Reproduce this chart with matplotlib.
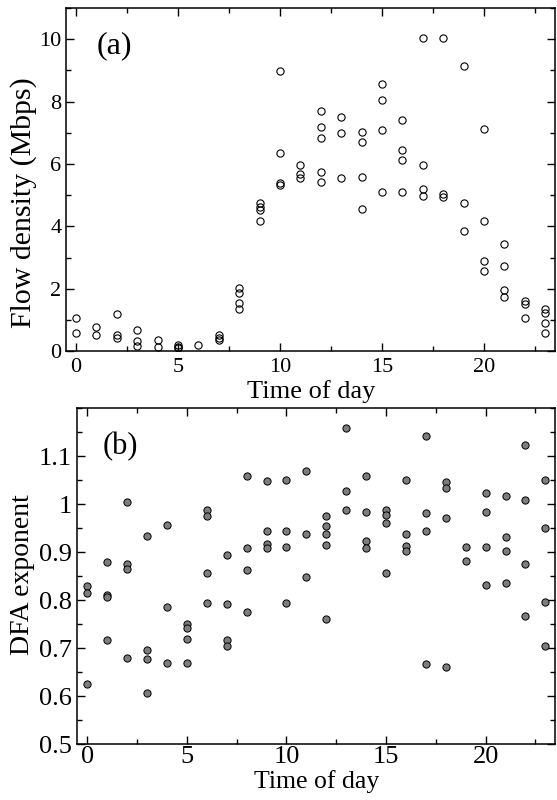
import matplotlib
matplotlib.use("Agg")
import matplotlib.pyplot as plt
from matplotlib.ticker import MultipleLocator, FormatStrFormatter, FixedLocator

plt.rcParams['font.family'] = ['Liberation Serif', 'DejaVu Serif']

hours = list(range(24))

# Panel (a): flow density (Mbps), values per hour
flow_density = [
    [1.07, 0.58],
    [0.78, 0.52],
    [1.18, 0.51, 0.43],
    [0.67, 0.34, 0.17],
    [0.36, 0.12],
    [0.21, 0.14, 0.09],
    [0.19],
    [0.52, 0.43, 0.36],
    [2.03, 1.88, 1.55, 1.34],
    [4.76, 4.63, 4.52, 4.17],
    [8.98, 6.36, 5.38, 5.33],
    [5.98, 5.68, 5.56],
    [7.69, 7.19, 6.83, 5.73, 5.41],
    [7.50, 6.98, 5.55],
    [7.04, 6.69, 5.57, 4.55],
    [8.56, 8.04, 7.09, 5.10],
    [7.41, 6.45, 6.12, 5.09],
    [10.03, 5.97, 5.20, 4.97],
    [10.05, 5.03, 4.95],
    [9.13, 4.74, 3.86],
    [7.11, 4.17, 2.90, 2.58],
    [3.45, 2.73, 1.97, 1.73],
    [1.62, 1.51, 1.06],
    [1.35, 1.24, 0.91, 0.57],
]

# Panel (b): DFA exponent, values per hour
dfa_exponent = [
    [0.829, 0.816, 0.625],
    [0.880, 0.811, 0.806, 0.718],
    [1.004, 0.876, 0.866, 0.679],
    [0.933, 0.697, 0.677, 0.606],
    [0.956, 0.786, 0.669],
    [0.751, 0.743, 0.720, 0.670],
    [0.989, 0.975, 0.857, 0.795],
    [0.895, 0.793, 0.717, 0.704],
    [1.060, 0.910, 0.864, 0.776],
    [1.049, 0.944, 0.917, 0.909],
    [1.051, 0.944, 0.911, 0.795],
    [1.070, 0.938, 0.849],
    [0.976, 0.955, 0.939, 0.916, 0.761],
    [1.159, 1.027, 0.989],
    [1.060, 0.985, 0.923, 0.910],
    [0.988, 0.978, 0.962, 0.857],
    [1.050, 0.938, 0.914, 0.903],
    [1.142, 0.981, 0.944, 0.668],
    [1.046, 1.035, 0.972, 0.662],
    [0.912, 0.882],
    [1.024, 0.985, 0.912, 0.832],
    [1.017, 0.931, 0.902, 0.837],
    [1.123, 1.010, 0.875, 0.768],
    [1.051, 0.951, 0.797, 0.704],
]

dfa_major_ticks = [0.5, 0.6, 0.7, 0.8, 0.9, 1.0, 1.1]


def flatten(vals):
    xs, ys = [], []
    for h, v in zip(hours, vals):
        for y in v:
            xs.append(h)
            ys.append(y)
    return xs, ys


fig = plt.figure(figsize=(5.57, 8.0), dpi=100)
ax1 = fig.add_axes([0.118, 0.561, 0.879, 0.429])
ax2 = fig.add_axes([0.1388, 0.0696, 0.8582, 0.420])

xa, ya = flatten(flow_density)
ax1.plot(xa, ya, 'o', ms=5.2, mfc='none', mec='black', mew=0.8, ls='none')

xb, yb = flatten(dfa_exponent)
ax2.plot(xb, yb, 'o', ms=5.2, mfc='#7d7d7d', mec='black', mew=0.7, ls='none')

for ax in (ax1, ax2):
    ax.set_xlim(-0.5, 23.5)
    ax.xaxis.set_major_locator(MultipleLocator(5))
    ax.xaxis.set_minor_locator(MultipleLocator(2.5))
    ax.tick_params(which='both', direction='in', top=True, right=True, width=1.0)
    ax.tick_params(which='major', length=6)
    ax.tick_params(which='minor', length=3.3)
    for s in ax.spines.values():
        s.set_linewidth(1.1)

ax1.set_ylim(0, 11)
ax1.yaxis.set_major_locator(MultipleLocator(2))
ax1.yaxis.set_minor_locator(MultipleLocator(1))
ax1.tick_params(which='major', labelsize=16)
ax1.tick_params(axis='x', pad=5)
ax1.tick_params(axis='y', pad=3)
ax1.set_xlabel('Time of day', fontsize=19)
ax1.set_ylabel('Flow density (Mbps)', fontsize=21.5)
ax1.xaxis.set_label_coords(0.502, -0.085)
ax1.xaxis.label.set_va('top')
ax1.yaxis.set_label_coords(-0.059, 0.434)
ax1.text(0.064, 0.89, '(a)', transform=ax1.transAxes, fontsize=23,
         ha='left', va='center')

ax2.set_ylim(0.5, 1.2)
ax2.yaxis.set_major_locator(FixedLocator(dfa_major_ticks))
ax2.yaxis.set_minor_locator(MultipleLocator(0.05))
ax2.yaxis.set_major_formatter(FormatStrFormatter('%g'))
ax2.tick_params(which='major', labelsize=19)
ax2.tick_params(axis='x', pad=1.5)
ax2.tick_params(axis='y', pad=4)
ax2.set_xlabel('Time of day', fontsize=18.5)
ax2.set_ylabel('DFA exponent', fontsize=20)
ax2.xaxis.set_label_coords(0.5, -0.076)
ax2.xaxis.label.set_va('top')
ax2.yaxis.set_label_coords(-0.088, 0.504)
ax2.text(0.052, 0.885, '(b)', transform=ax2.transAxes, fontsize=22,
         ha='left', va='center')

fig.savefig('out.png', dpi=100)
